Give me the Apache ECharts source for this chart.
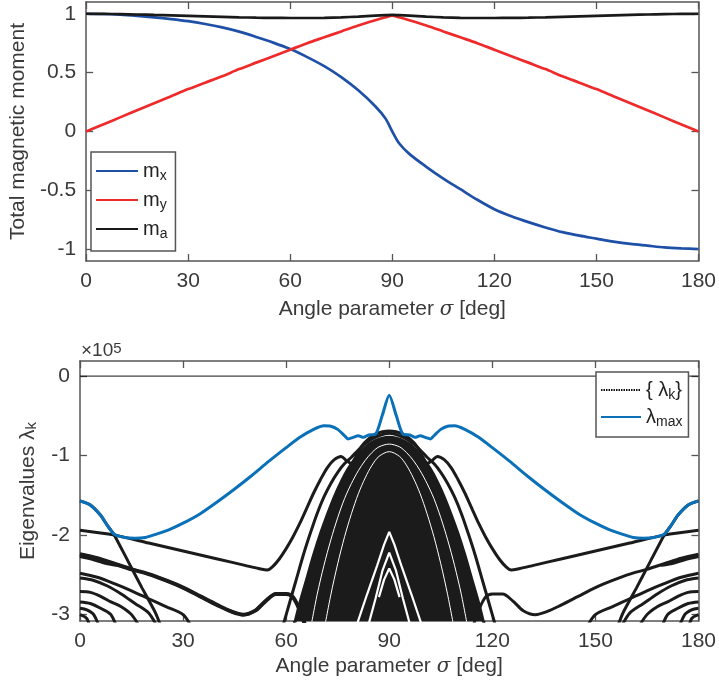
<!DOCTYPE html>
<html>
<head>
<meta charset="utf-8">
<script src="https://cdn.jsdelivr.net/npm/echarts@6/dist/echarts.min.js"></script>
<style>
  html, body { margin: 0; padding: 0; background: #fff; }
  #main { width: 719px; height: 690px; }
</style>
</head>
<body>
<div id="main"></div>
<script>
// ---- data ----
const xTicks = [0, 30, 60, 90, 120, 150, 180]
const yTicksTop = [-1, -0.5, 0, 0.5, 1]
const yTicksBottom = [-3, -2, -1, 0]

// top panel: total magnetic moment vs sigma
const sigmaTop = [0, 5, 10, 15, 20, 25, 30, 35, 40, 45, 50, 55, 60, 65, 70, 75, 80, 85, 88, 90,
  92, 95, 100, 105, 110, 115, 120, 125, 130, 135, 140, 145, 150, 155, 160, 165, 170, 175, 180]
const mX = [1.000, 0.998, 0.992, 0.982, 0.970, 0.955, 0.937, 0.913, 0.884, 0.848, 0.803, 0.755, 0.700, 0.632, 0.555, 0.462, 0.350, 0.215, 0.110, 0.000,
  -0.100, -0.190, -0.300, -0.400, -0.490, -0.580, -0.660, -0.720, -0.770, -0.815, -0.855, -0.885, -0.910, -0.935, -0.955, -0.970, -0.985, -0.993, -0.998]
const mY = [0.000, 0.060, 0.120, 0.180, 0.240, 0.300, 0.360, 0.415, 0.470, 0.530, 0.585, 0.640, 0.695, 0.750, 0.800, 0.850, 0.900, 0.945, 0.970, 0.985,
  0.970, 0.945, 0.900, 0.850, 0.800, 0.750, 0.695, 0.640, 0.585, 0.530, 0.470, 0.415, 0.360, 0.300, 0.240, 0.180, 0.120, 0.060, 0.000]
const mA = [1.000, 0.999, 0.997, 0.994, 0.990, 0.986, 0.982, 0.978, 0.974, 0.970, 0.967, 0.965, 0.964, 0.964, 0.966, 0.970, 0.976, 0.984, 0.988, 0.990,
  0.988, 0.984, 0.976, 0.970, 0.966, 0.964, 0.964, 0.965, 0.967, 0.970, 0.974, 0.978, 0.982, 0.986, 0.990, 0.994, 0.997, 0.999, 1.000]

// bottom panel: eigenvalues (x1e5) as [sigma, lambda]
const lambdaMax = [[0, -1.57], [3, -1.62], [6, -1.75], [8, -1.88], [10, -1.99], [13, -2.03], [16, -2.04], [19, -2.03], [22, -1.99], [26, -1.93],
  [30, -1.85], [35, -1.73], [40, -1.58], [45, -1.42], [50, -1.25], [55, -1.07], [60, -0.90], [64, -0.77], [68, -0.67], [71, -0.625], [73, -0.63],
  [75, -0.67], [77, -0.75], [78, -0.79], [79.5, -0.77], [81, -0.75], [82.5, -0.77], [84, -0.74], [86, -0.73], [88, -0.49], [90, -0.24],
  [92, -0.49], [94, -0.73], [96, -0.74], [97.5, -0.77], [99, -0.75], [100.5, -0.77], [102, -0.79], [103, -0.75], [105, -0.67], [107, -0.63],
  [109, -0.625], [112, -0.67], [116, -0.77], [120, -0.90], [125, -1.07], [130, -1.25], [135, -1.42], [140, -1.58], [145, -1.73], [150, -1.85],
  [154, -1.93], [158, -1.99], [161, -2.03], [164, -2.04], [167, -2.03], [170, -1.99], [172, -1.88], [174, -1.75], [177, -1.62], [180, -1.57]]

const zeroBranch = [[0, 0], [180, 0]]

const upperBranch = [[0, -1.94], [10, -2.0], [20, -2.1], [30, -2.2], [40, -2.3], [48, -2.38], [52, -2.42], [54.5, -2.44], [56, -2.40], [58, -2.30],
  [60, -2.17], [62, -2.02], [64, -1.85], [66, -1.66], [68, -1.47], [70, -1.30], [72, -1.15], [74, -1.05], [76, -1.01], [77.5, -1.06], [79, -1.10],
  [80.5, -1.0], [82, -0.88], [84, -0.79], [86, -0.73], [88, -0.70], [90, -0.69], [92, -0.70], [94, -0.73], [96, -0.79], [98, -0.88], [99.5, -1.0],
  [101, -1.10], [102.5, -1.06], [104, -1.01], [106, -1.05], [108, -1.15], [110, -1.30], [112, -1.47], [114, -1.66], [116, -1.85], [118, -2.02],
  [120, -2.17], [122, -2.30], [124, -2.40], [125.5, -2.44], [128, -2.42], [132, -2.38], [140, -2.3], [150, -2.2], [160, -2.1], [170, -2.0], [180, -1.94]]

const steepBranches = [
  [[0, -1.57], [3, -1.62], [6, -1.75], [8, -1.88], [10, -2.0], [14, -2.33], [18, -2.66], [22, -2.98], [24, -3.2]],
  [[156, -3.2], [158, -2.98], [162, -2.66], [166, -2.33], [170, -2.0], [172, -1.88], [174, -1.75], [177, -1.62], [180, -1.57]]
]

const lowerBranches = [
  [[0, -2.24], [5, -2.29], [10, -2.36], [15, -2.43], [20, -2.49], [25, -2.57], [30, -2.66], [35, -2.77], [40, -2.88], [44, -2.96], [47.5, -3.0],
    [51, -2.95], [54, -2.83], [57, -2.74], [60, -2.74], [62, -2.78], [64, -2.95], [66, -3.2]],
  [[114, -3.2], [116, -2.95], [118, -2.78], [120, -2.74], [123, -2.74], [126, -2.83], [129, -2.95], [132.5, -3.0], [136, -2.96], [140, -2.88],
    [145, -2.77], [150, -2.66], [155, -2.57], [160, -2.49], [165, -2.43], [170, -2.36], [175, -2.29], [180, -2.24]],
  [[0, -2.27], [4, -2.31], [8, -2.36], [11, -2.38]],
  [[169, -2.38], [172, -2.36], [176, -2.31], [180, -2.27]],
  [[0, -2.48], [5, -2.53], [10, -2.61], [15, -2.70], [20, -2.80], [25, -2.90], [30, -3.0], [33, -3.2]],
  [[147, -3.2], [150, -3.0], [155, -2.90], [160, -2.80], [165, -2.70], [170, -2.61], [175, -2.53], [180, -2.48]],
  [[0, -2.54], [4, -2.57], [8, -2.64], [12, -2.74], [16, -2.86], [20, -2.98], [23, -3.2]],
  [[157, -3.2], [160, -2.98], [164, -2.86], [168, -2.74], [172, -2.64], [176, -2.57], [180, -2.54]],
  [[0, -2.71], [3, -2.72], [6, -2.77], [9, -2.84], [12, -2.90], [15, -3.0], [18, -3.2]],
  [[162, -3.2], [165, -3.0], [168, -2.90], [171, -2.84], [174, -2.77], [177, -2.72], [180, -2.71]],
  [[0, -2.84], [3, -2.86], [6, -2.92], [9, -3.0], [11, -3.2]],
  [[169, -3.2], [171, -3.0], [174, -2.92], [177, -2.86], [180, -2.84]],
  [[0, -2.92], [2, -2.94], [4, -3.0], [6, -3.2]],
  [[174, -3.2], [176, -3.0], [178, -2.94], [180, -2.92]],
  [[0, -3.0], [2, -3.05], [3, -3.2]],
  [[177, -3.2], [178, -3.05], [180, -3.0]]
]

const fanOuter = [[59, -3.15], [61, -2.85], [63, -2.55], [65, -2.25], [67, -1.98], [69, -1.73], [71, -1.52], [73, -1.35], [75, -1.21], [77, -1.10],
  [79, -1.02], [81, -0.93], [83, -0.85], [85, -0.79], [87, -0.75], [90, -0.72], [93, -0.75], [95, -0.79], [97, -0.85], [99, -0.93], [101, -1.02],
  [103, -1.10], [105, -1.21], [107, -1.35], [109, -1.52], [111, -1.73], [113, -1.98], [115, -2.25], [117, -2.55], [119, -2.85], [121, -3.15]]

const fanCore = [[62, -3.2], [64, -2.85], [66, -2.55], [68, -2.25], [70, -1.98], [72, -1.74], [74, -1.52], [76, -1.33], [78, -1.17], [80, -1.04],
  [82, -0.94], [84, -0.86], [86, -0.81], [88, -0.78], [90, -0.77], [92, -0.78], [94, -0.81], [96, -0.86], [98, -0.94], [100, -1.04], [102, -1.17],
  [104, -1.33], [106, -1.52], [108, -1.74], [110, -1.98], [112, -2.25], [114, -2.55], [116, -2.85], [118, -3.2]]

// thin gaps visible inside the dense fan
const fanGaps = [
  [[67, -3.2], [69, -2.75], [71, -2.38], [73, -2.06], [75, -1.78], [77, -1.54], [79, -1.35], [81, -1.19], [83, -1.06], [85, -0.96], [87, -0.89],
    [90, -0.855], [93, -0.89], [95, -0.96], [97, -1.06], [99, -1.19], [101, -1.35], [103, -1.54], [105, -1.78], [107, -2.06], [109, -2.38], [111, -2.75], [113, -3.2]],
  [[71, -3.2], [73, -2.75], [75, -2.36], [77, -2.02], [79, -1.73], [81, -1.48], [83, -1.28], [85, -1.12], [87, -1.01], [90, -0.95], [93, -1.01],
    [95, -1.12], [97, -1.28], [99, -1.48], [101, -1.73], [103, -2.02], [105, -2.36], [107, -2.75], [109, -3.2]]
]
const fanWedges = [
  [[80, -3.2], [83.5, -2.75], [86.5, -2.38], [88.5, -2.12], [90, -1.96], [91.5, -2.12], [93.5, -2.38], [96.5, -2.75], [100, -3.2]],
  [[83.5, -3.2], [86, -2.8], [88, -2.45], [90, -2.22], [92, -2.45], [94, -2.8], [96.5, -3.2]],
  [[87, -2.78], [88.5, -2.56], [90, -2.42], [91.5, -2.56], [93, -2.78]]
]

// ---- chart ----
const chart = echarts.init(document.getElementById('main'))
const FONT = "'Liberation Sans', Arial, sans-serif"
const TXT = '#3a3a3a'
const AX = '#555'

function frameAxis(grid, pos, min, max, ticks, labels) {
    return {
        type: 'value',
        gridIndex: grid,
        position: pos,
        min: min,
        max: max,
        axisLine: { show: true, onZero: false, lineStyle: { color: AX, width: 1.5 } },
        axisTick: { show: true, inside: true, length: 7, customValues: ticks, lineStyle: { color: AX, width: 1.3 } },
        axisLabel: { show: labels, customValues: ticks, color: TXT, fontSize: 21, fontFamily: FONT, margin: 10 },
        splitLine: { show: false },
    }
}

const xName = 'Angle parameter {i|σ} [deg]'
const nameStyle = {
    color: TXT,
    fontSize: 21,
    fontFamily: FONT,
    rich: {
        i: { fontStyle: 'italic', fontFamily: "'DejaVu Serif', serif", fontSize: 20, color: TXT },
        s: { fontSize: 15, fontFamily: FONT, color: TXT, verticalAlign: 'bottom', lineHeight: 15 },
    },
}

let xAxes = [
    Object.assign(frameAxis(0, 'bottom', 0, 180, xTicks, true), { name: xName, nameLocation: 'middle', nameGap: 38, nameTextStyle: nameStyle }),
    frameAxis(0, 'top', 0, 180, xTicks, false),
    Object.assign(frameAxis(1, 'bottom', 0, 180, xTicks, true), { name: xName, nameLocation: 'middle', nameGap: 35, nameTextStyle: nameStyle }),
    frameAxis(1, 'top', 0, 180, xTicks, false),
]
let yAxes = [
    Object.assign(frameAxis(0, 'left', -1.1, 1.1, yTicksTop, true), { name: 'Total magnetic moment', nameLocation: 'middle', nameGap: 41, nameTextStyle: nameStyle }),
    frameAxis(0, 'right', -1.1, 1.1, yTicksTop, false),
    Object.assign(frameAxis(1, 'left', -3.08, 0.19, yTicksBottom, true), { name: 'Eigenvalues λ{s|k}', nameLocation: 'middle', nameGap: 41, nameTextStyle: nameStyle }),
    frameAxis(1, 'right', -3.08, 0.19, yTicksBottom, false),
]

function topLine(name, ys, color) {
    return {
        name: name,
        type: 'line',
        xAxisIndex: 0,
        yAxisIndex: 0,
        symbol: 'none',
        smooth: 0.3,
        lineStyle: { color: color, width: 2.7 },
        itemStyle: { color: color },
        data: sigmaTop.map((s, i) => [s, ys[i]]),
    }
}

function eig(data, opts) {
    return Object.assign({
        type: 'line',
        xAxisIndex: 2,
        yAxisIndex: 2,
        symbol: 'none',
        smooth: 0.3,
        silent: true,
        lineStyle: { color: '#1b1b1b', width: 3 },
        data: data,
    }, opts || {})
}

let series = [
    topLine('mx', mX, '#1f50a8'),
    topLine('my', mY, '#ee2a2a'),
    topLine('ma', mA, '#1a1a1a'),
]
series.push(eig(zeroBranch, { lineStyle: { color: '#111', width: 1 }, smooth: false }))
lowerBranches.forEach(d => series.push(eig(d)))
series.push(eig(lowerBranches[0], { lineStyle: { color: '#1b1b1b', width: 4 } }))
steepBranches.forEach(d => series.push(eig(d, { smooth: 0.2 })))
series.push(eig(fanOuter))
series.push(eig(fanCore, { areaStyle: { color: '#1b1b1b', opacity: 1, origin: 'start' } }))
fanGaps.forEach(d => series.push(eig(d, { lineStyle: { color: '#fff', width: 1 } })))
fanWedges.forEach(d => series.push(eig(d, { smooth: false, lineStyle: { color: '#fff', width: 2.2 } })))
series.push(eig(upperBranch))
// legend-only entry for the whole eigenvalue set
series.push(eig([], { name: 'lk', lineStyle: { color: '#111', width: 2, type: [1.5, 1] } }))
series.push(eig(lambdaMax, { name: 'lmax', smooth: 0.25, lineStyle: { color: '#0a70b8', width: 3 }, itemStyle: { color: '#0a70b8' } }))

const legendText = {
    color: '#222',
    fontSize: 20,
    fontFamily: FONT,
    rich: {
        m: { fontSize: 20, fontFamily: FONT, color: '#222', lineHeight: 24 },
        s: { fontSize: 14, fontFamily: FONT, color: '#222', verticalAlign: 'bottom', lineHeight: 14 },
    },
}
const legendLabels = {
    mx: '{m|m}{s|x}',
    my: '{m|m}{s|y}',
    ma: '{m|m}{s|a}',
    lk: '{m|{ λ}{s|k}{m|\u007d}',
    lmax: '{m|λ}{s|max}',
}

const option = {
    animation: false,
    backgroundColor: '#fff',
    title: {
        text: '×10{sup|5}',
        left: 81,
        top: 341,
        padding: 0,
        textStyle: {
            color: TXT,
            fontSize: 19,
            fontFamily: FONT,
            fontWeight: 'normal',
            rich: { sup: { fontSize: 15, fontFamily: FONT, color: TXT, verticalAlign: 'top', lineHeight: 12 } },
        },
    },
    grid: [
        { left: 80, top: 2, width: 620, height: 259 },
        { left: 80, top: 361, width: 620, height: 260 },
    ],
    xAxis: xAxes,
    yAxis: yAxes,
    legend: [
        {
            data: ['mx', 'my', 'ma'],
            orient: 'vertical',
            left: 91,
            top: 152,
            itemWidth: 42,
            itemHeight: 12,
            itemGap: 7,
            padding: [9, 8, 10, 4],
            backgroundColor: '#fff',
            borderColor: AX,
            borderWidth: 1.5,
            borderRadius: 0,
            selectedMode: false,
            itemStyle: { opacity: 0 },
            formatter: n => legendLabels[n],
            textStyle: legendText,
        },
        {
            data: ['lk', 'lmax'],
            orient: 'vertical',
            left: 596,
            top: 372,
            itemWidth: 40,
            itemHeight: 12,
            itemGap: 5,
            padding: [8, 6, 8, 4],
            backgroundColor: '#fff',
            borderColor: AX,
            borderWidth: 1.5,
            borderRadius: 0,
            selectedMode: false,
            itemStyle: { opacity: 0 },
            formatter: n => legendLabels[n],
            textStyle: legendText,
        },
    ],
    series: series,
}
chart.setOption(option)
</script>
</body>
</html>
